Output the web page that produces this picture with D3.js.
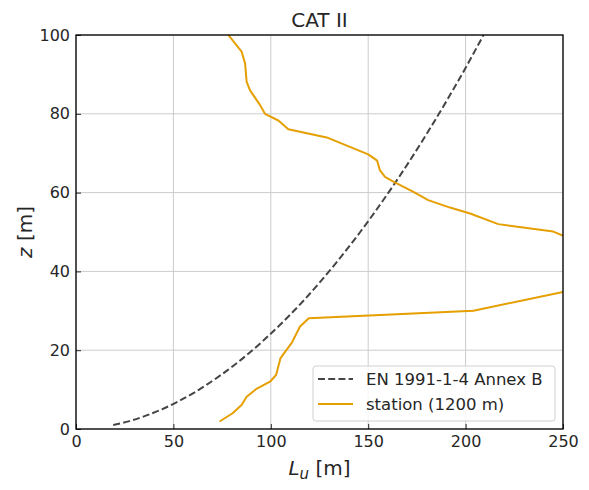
<!DOCTYPE html>
<html>
<head>
<meta charset="utf-8">
<script src="https://cdn.jsdelivr.net/npm/d3@7"></script>
<style>
body { margin: 0; background: #fff; }
text { font-family: "DejaVu Sans", sans-serif; }
</style>
</head>
<body>
<svg id="chart" width="589" height="490"></svg>
<script>
// values
var chart_title = "CAT II";
var x_ticks = [0, 50, 100, 150, 200, 250];
var y_ticks = [0, 20, 40, 60, 80, 100];
var legend_labels = ["EN 1991-1-4 Annex B", "station (1200 m)"];

// EN 1991-1-4 Annex B profile, [L_u, z]
var annex_L = [19.1, 27.4, 33.8, 39.2, 44.1, 48.5, 56.3, 63.2, 69.4, 78.0, 90.6, 101.7, 111.9, 129.9, 145.9, 160.4, 173.8, 186.3, 198.1, 209.2];
var annex_z = [1, 2, 3, 4, 5, 6, 8, 10, 12, 15, 20, 25, 30, 40, 50, 60, 70, 80, 90, 100];

// station (1200 m) profile, [L_u, z]
var station_L = [73.7, 80.4, 85, 87.6, 92.4, 99.6, 102.7, 105, 110.9, 115, 119.5, 204, 250, 285, 250, 245, 216.8, 202.3, 192, 180.8, 173.2, 162.9, 158.6, 156, 154.6, 150, 128.7, 109, 103.9, 97, 94.5, 89.3, 87.6, 86.8, 85, 78.2];
var station_z = [1.9, 4.0, 6.1, 8.2, 10.1, 12, 13.7, 18, 22, 26, 28.1, 30, 34.8, 42, 49.1, 50.1, 52, 54.7, 56.2, 58.1, 60.2, 62.8, 64, 65.7, 68.1, 69.7, 74, 76.1, 78.3, 80, 82.2, 86, 88.1, 92.8, 95.8, 100];

var margin = {left: 76, right: 26, top: 35, bottom: 61};
var width = 589 - margin.left - margin.right;
var height = 490 - margin.top - margin.bottom;

var svg = d3.select("#chart");
var g = svg.append("g").attr("transform", "translate(" + margin.left + "," + margin.top + ")");

var x = d3.scaleLinear().domain([0, 250]).range([0, width]);
var y = d3.scaleLinear().domain([0, 100]).range([height, 0]);

svg.append("defs").append("clipPath").attr("id", "clip")
  .append("rect").attr("width", width).attr("height", height);

// grid
g.append("g").selectAll("line").data(x_ticks).enter().append("line")
  .attr("x1", d => x(d)).attr("x2", d => x(d)).attr("y1", 0).attr("y2", height)
  .style("stroke", "#cccccc").style("stroke-width", 1);
g.append("g").selectAll("line").data(y_ticks).enter().append("line")
  .attr("y1", d => y(d)).attr("y2", d => y(d)).attr("x1", 0).attr("x2", width)
  .style("stroke", "#cccccc").style("stroke-width", 1);

var annex = annex_L.map((d, i) => [d, annex_z[i]]);
var station = station_L.map((d, i) => [d, station_z[i]]);

var lines = g.append("g").attr("clip-path", "url(#clip)");
lines.append("path").datum(annex)
  .attr("d", d3.line().x(d => x(d[0])).y(d => y(d[1])).curve(d3.curveMonotoneY))
  .style("fill", "none").style("stroke", "#454545").style("stroke-width", 2)
  .style("stroke-dasharray", "7,3.2");
lines.append("path").datum(station)
  .attr("d", d3.line().x(d => x(d[0])).y(d => y(d[1])))
  .style("fill", "none").style("stroke", "#E69F00").style("stroke-width", 2)
  .style("stroke-linejoin", "round");

// axes, ticks pointing inward
var xAxis = g.append("g").attr("transform", "translate(0," + height + ")")
  .call(d3.axisBottom(x).tickValues(x_ticks).tickSizeInner(-5).tickSizeOuter(0).tickPadding(7));
var yAxis = g.append("g")
  .call(d3.axisLeft(y).tickValues(y_ticks).tickSizeInner(-5).tickSizeOuter(0).tickPadding(6));
[xAxis, yAxis].forEach(a => {
  a.select(".domain").remove();
  a.selectAll("text").style("font-size", "16px").style("fill", "#262626").style("font-family", "DejaVu Sans");
  a.selectAll("line").style("stroke", "#262626");
});

// frame
g.append("rect").attr("width", width).attr("height", height)
  .style("fill", "none").style("stroke", "#000").style("stroke-width", 1.3);

// title and labels
svg.append("text").attr("x", margin.left + width / 2).attr("y", 27)
  .attr("text-anchor", "middle").style("font-size", "20px").style("fill", "#262626").text(chart_title);

var xl = svg.append("text").attr("x", margin.left + width / 2).attr("y", 475)
  .attr("text-anchor", "middle").style("font-size", "20px").style("fill", "#262626");
xl.append("tspan").style("font-style", "italic").text("L");
xl.append("tspan").attr("dy", 4).style("font-size", "15px").style("font-style", "italic").text("u");
xl.append("tspan").attr("dy", -4).text(" [m]");

var yl = svg.append("text").attr("transform", "translate(32," + (margin.top + height / 2) + ") rotate(-90)")
  .attr("text-anchor", "middle").style("font-size", "20px").style("fill", "#262626");
yl.append("tspan").style("font-style", "italic").text("z");
yl.append("tspan").text(" [m]");

// legend
var lg = svg.append("g").attr("transform", "translate(313,366)");
lg.append("rect").attr("width", 242).attr("height", 55).attr("rx", 3)
  .style("fill", "#fff").style("fill-opacity", 0.8).style("stroke", "#d0d0d0");
lg.append("line").attr("x1", 5).attr("x2", 40).attr("y1", 13).attr("y2", 13)
  .style("stroke", "#454545").style("stroke-width", 2).style("stroke-dasharray", "7,3.2");
lg.append("line").attr("x1", 5).attr("x2", 40).attr("y1", 38).attr("y2", 38)
  .style("stroke", "#E69F00").style("stroke-width", 2);
lg.selectAll("text.lab").data(legend_labels).enter().append("text")
  .attr("x", 53).attr("y", (d, i) => 19 + i * 25)
  .style("font-size", "16.5px").style("fill", "#262626").text(d => d);
</script>
</body>
</html>
